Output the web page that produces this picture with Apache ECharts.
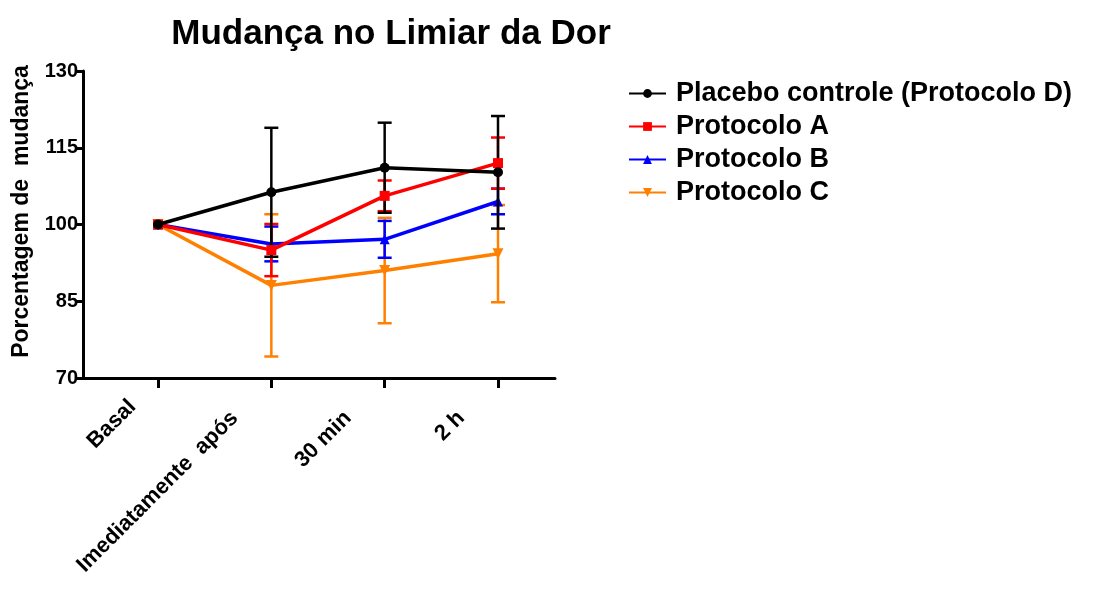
<!DOCTYPE html>
<html>
<head>
    <meta charset="UTF-8">
    <title>Mudança no Limiar da Dor</title>
    <style type="text/css">
        body { margin: 0; background: #fff; }
    </style>
</head>
<body>
<div id='mychart' style="width: 1098px;height:590px;"></div>
<script src='https://cdn.jsdelivr.net/npm/echarts@6/dist/echarts.min.js'></script>
<script>
    // eixo x
    var categories = ['Basal', 'Imediatamente  após', '30 min', '2 h'];
    var yTicks = [70, 85, 100, 115, 130];

    // medias e erros
    var names = ['Placebo controle (Protocolo D)', 'Protocolo A', 'Protocolo B', 'Protocolo C'];
    var placebo = [100, 106.3, 111.1, 110.2];
    var placeboErr = [0, 12.6, 8.8, 11.0];
    var protA = [100, 95.0, 105.6, 112.0];
    var protAErr = [0, 5.1, 3.0, 5.0];
    var protB = [100, 96.2, 97.1, 104.5];
    var protBErr = [0, 3.4, 3.6, 2.5];
    var protC = [100, 88.1, 91.0, 94.3];
    var protCErr = [0, 13.9, 10.3, 9.5];

    var colors = ['#000000', '#ff0000', '#0000ff', '#ff8000'];
    var symbols = ['circle', 'rect', 'triangle', 'path://M0,0 L10,0 L5,9 Z'];
    var means = [placebo, protA, protB, protC];
    var errs = [placeboErr, protAErr, protBErr, protCErr];

    var font = 'Liberation Sans, Arial, sans-serif';

    function errData(m, e) {
        var out = [];
        for (var i = 0; i < m.length; i++) {
            if (e[i] > 0) out.push([i, m[i] - e[i], m[i] + e[i]]);
        }
        return out;
    }

    function errSeries(idx) {
        return {
            name: 'err' + idx,
            type: 'custom',
            xAxisIndex: 1,
            yAxisIndex: 1,
            z: 2 + (3 - idx),
            data: errData(means[idx], errs[idx]),
            renderItem: function (params, api) {
                var x = api.value(0);
                var lo = api.coord([x, api.value(1)]);
                var hi = api.coord([x, api.value(2)]);
                var w = 7;
                var st = {stroke: colors[idx], lineWidth: 2.5};
                return {
                    type: 'group',
                    children: [
                        {type: 'line', shape: {x1: lo[0], y1: lo[1], x2: hi[0], y2: hi[1]}, style: st},
                        {type: 'line', shape: {x1: lo[0] - w, y1: lo[1], x2: lo[0] + w, y2: lo[1]}, style: st},
                        {type: 'line', shape: {x1: hi[0] - w, y1: hi[1], x2: hi[0] + w, y2: hi[1]}, style: st}
                    ]
                };
            }
        };
    }

    function lineSeries(idx) {
        return {
            name: names[idx],
            type: 'line',
            xAxisIndex: 1,
            yAxisIndex: 1,
            z: 3 + (3 - idx),
            data: means[idx],
            symbol: symbols[idx],
            symbolSize: idx === 0 ? 10 : (idx === 3 ? 11 : 10),
            showAllSymbol: true,
            itemStyle: {color: colors[idx]},
            lineStyle: {color: colors[idx], width: 3.5}
        };
    }

    var myChart = echarts.init(document.getElementById('mychart'));

    var series = [];
    for (var i = 3; i >= 0; i--) {
        series.push(errSeries(i));
        series.push(lineSeries(i));
    }

    // o rotulo "Basal" fica um pouco mais a direita no original
    var xData = categories.map(function (c, i) {
        if (i === 0) return {value: c, textStyle: {padding: [0, 36, 32, 0]}};
        return c;
    });

    var option = {
        animation: false,
        title: {
            text: 'Mudança no Limiar da Dor',
            left: 386,
            top: 12,
            textAlign: 'center',
            textStyle: {fontFamily: font, fontSize: 35, fontWeight: 'bold', color: '#000'}
        },
        legend: {
            data: names,
            orient: 'vertical',
            left: 623,
            top: 75,
            itemGap: 6,
            itemWidth: 37,
            itemHeight: 11,
            textStyle: {fontFamily: font, fontSize: 27, lineHeight: 27, fontWeight: 'bold', color: '#000',
                padding: [0, 0, 0, 5]}
        },
        grid: [
            {left: 83, top: 71, width: 472, height: 307},
            {left: 158, top: 71, width: 340, height: 307}
        ],
        xAxis: [
            {
                gridIndex: 0, type: 'value', min: 0, max: 1,
                axisLine: {lineStyle: {color: '#000', width: 3}},
                axisTick: {show: false}, axisLabel: {show: false}, splitLine: {show: false}
            },
            {
                gridIndex: 1, type: 'category', data: xData, boundaryGap: false,
                axisLine: {show: false},
                axisTick: {show: true, alignWithLabel: true, length: 10, lineStyle: {color: '#000', width: 3}},
                axisLabel: {rotate: 45, margin: 0, interval: 0, color: '#000',
                    padding: [0, 52, 0, 0],
                    fontFamily: font, fontSize: 22, fontWeight: 'bold'},
                splitLine: {show: false}
            }
        ],
        yAxis: [
            {
                gridIndex: 0, type: 'value', min: yTicks[0], max: yTicks[yTicks.length - 1], interval: 15,
                name: 'Porcentagem de  mudança',
                nameLocation: 'middle',
                nameGap: 50,
                nameTextStyle: {fontFamily: font, fontSize: 23, fontWeight: 'bold', color: '#000',
                    padding: [0, 0, 0, 26]},
                axisLine: {show: true, lineStyle: {color: '#000', width: 3}},
                axisTick: {show: true, length: 7, lineStyle: {color: '#000', width: 3}},
                axisLabel: {color: '#000', fontFamily: font, fontSize: 20, fontWeight: 'bold', margin: 5},
                splitLine: {show: false}
            },
            {
                gridIndex: 1, type: 'value', min: yTicks[0], max: yTicks[yTicks.length - 1], interval: 15,
                show: false, splitLine: {show: false}
            }
        ],
        series: series
    };

    myChart.setOption(option);
</script>
</body>
</html>
